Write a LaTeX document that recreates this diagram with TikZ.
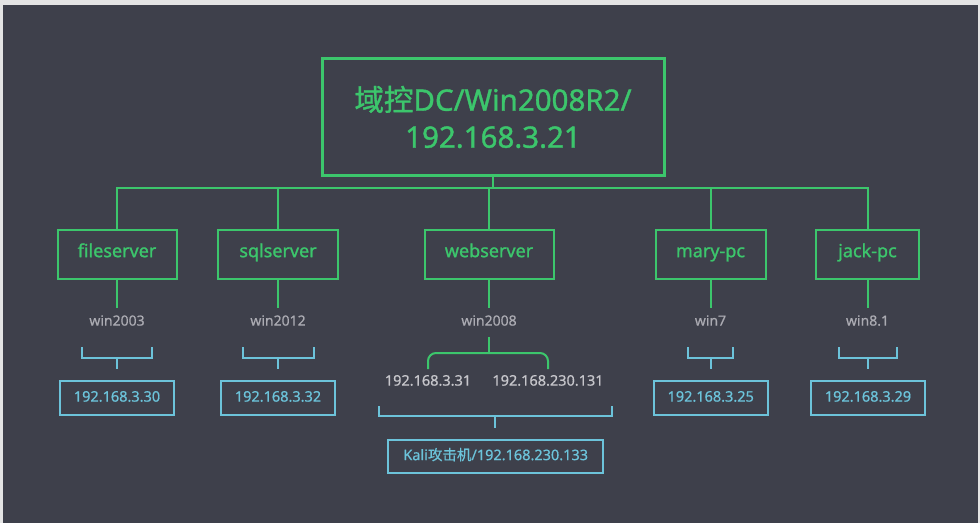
\documentclass[tikz,border=0pt]{standalone}
\usepackage{fontspec}
\setmainfont{Noto Sans}
\newfontfamily\medium{Noto Sans}[FakeBold=1.2]
\newfontfamily\smallmed{Noto Sans}[FakeBold=0.6]
\newfontfamily\cjkmed{Noto Sans CJK SC}[FakeBold=1.2]
\newfontfamily\cjksmall{Noto Sans CJK SC}[FakeBold=0.6]
\definecolor{bg}{HTML}{3E404B}
\definecolor{frame}{HTML}{E4E4E4}
\definecolor{grn}{HTML}{3CC66C}
\definecolor{blu}{HTML}{6CC3DA}
\definecolor{osgray}{HTML}{ABABB2}
\definecolor{ipgray}{HTML}{C6C6CB}
\tikzset{
  gline/.style={draw=grn, line width=2pt},
  bline/.style={draw=blu, line width=2pt},
  hostbox/.style={draw=grn, line width=2pt, text=grn, minimum height=49pt, inner sep=0pt,
    text height=0.75em, text depth=0.12em, font=\medium\fontsize{18}{22}\selectfont},
  ipbox/.style={draw=blu, line width=2pt, text=blu, minimum height=34pt, minimum width=114pt,
    inner sep=0pt, text height=0.72em, text depth=0em, font=\smallmed\fontsize{14.5}{17}\selectfont},
  ostext/.style={text=osgray, inner sep=0pt, text height=0.72em, text depth=0em, font=\smallmed\fontsize{14}{17}\selectfont},
  iptext/.style={text=ipgray, inner sep=0pt, text height=0.72em, text depth=0em, font=\smallmed\fontsize{14.5}{17}\selectfont},
}
\begin{document}
\begin{tikzpicture}[x=1pt,y=-1pt]
\useasboundingbox (0,0) rectangle (980,523);
\fill[frame] (0,0) rectangle (980,523);
\fill[bg] (3,5) rectangle (978,523);

% root
\node[draw=grn, line width=3pt, text=grn, minimum width=342pt, minimum height=117pt,
  align=center, font=\medium\fontsize{29.5}{38}\selectfont] (dc) at (493,117)
  {{\cjkmed 域控}DC/Win2008R2/\\[-1pt]192.168.3.21};

% hosts
\node[hostbox, minimum width=119pt] (fs) at (117,254) {fileserver};
\node[hostbox, minimum width=120pt] (sq) at (278,254) {sqlserver};
\node[hostbox, minimum width=129pt] (ws) at (489,254) {webserver};
\node[hostbox, minimum width=110pt] (mp) at (710.5,254) {mary-pc};
\node[hostbox, minimum width=103pt] (jp) at (867.5,254) {jack-pc};

% bus
\coordinate (bus) at (0,188);
\draw[gline] (fs.north) -- (fs.north |- bus) -- (jp.north |- bus) -- (jp.north);
\draw[gline] (dc.south) -- (dc.south |- bus);
\draw[gline] (sq.north) -- (sq.north |- bus);
\draw[gline] (ws.north) -- (ws.north |- bus);
\draw[gline] (mp.north) -- (mp.north |- bus);

% OS labels
\node[ostext] (os1) at (117,322) {win2003};
\node[ostext] (os2) at (278,322) {win2012};
\node[ostext] (os3) at (489,322) {win2008};
\node[ostext] (os4) at (710.5,322) {win7};
\node[ostext] (os5) at (867.5,322) {win8.1};
\foreach \h/\o in {fs/os1, sq/os2, ws/os3, mp/os4, jp/os5}
  \draw[gline] (\h.south) -- ([yshift=10pt]\o.north);

% IP boxes
\node[ipbox] (ip1) at (117,398) {192.168.3.30};
\node[ipbox] (ip2) at (278,398) {192.168.3.32};
\node[ipbox] (ip4) at (710.7,398) {192.168.3.25};
\node[ipbox] (ip5) at (868,398) {192.168.3.29};
\node[ipbox, minimum width=215pt, minimum height=33pt] (kali) at (495.7,456.5)
  {Kali{\cjksmall 攻击机}/192.168.230.133};

% blue brackets
\foreach \b/\w in {ip1/35, ip2/35.5, ip4/22.5, ip5/29}{
  \draw[bline] ([xshift=-\w pt, yshift=33pt]\b.north) -- ++(0,11) -- ++(2*\w,0) -- ++(0,-11);
  \draw[bline] ([yshift=22pt]\b.north) -- ([yshift=11pt]\b.north);
}
\draw[bline] ([xshift=-117pt, yshift=33pt]kali.north) -- ++(0,10) -- ++(233,0) -- ++(0,-10);
\draw[bline] ([xshift=-1pt, yshift=23pt]kali.north) -- ([xshift=-1pt, yshift=11pt]kali.north);

% webserver two IPs
\node[iptext] (wip1) at (428,382) {192.168.3.31};
\node[iptext] (wip2) at (548,382) {192.168.230.131};
\coordinate (wsj) at (489,353);
\draw[gline] ([yshift=-11pt]os3.south) -- (wsj);
\draw[gline, rounded corners=8pt] ([yshift=9pt]wip1.north) |- (wsj) -| ([yshift=9pt]wip2.north);
\end{tikzpicture}
\end{document}
